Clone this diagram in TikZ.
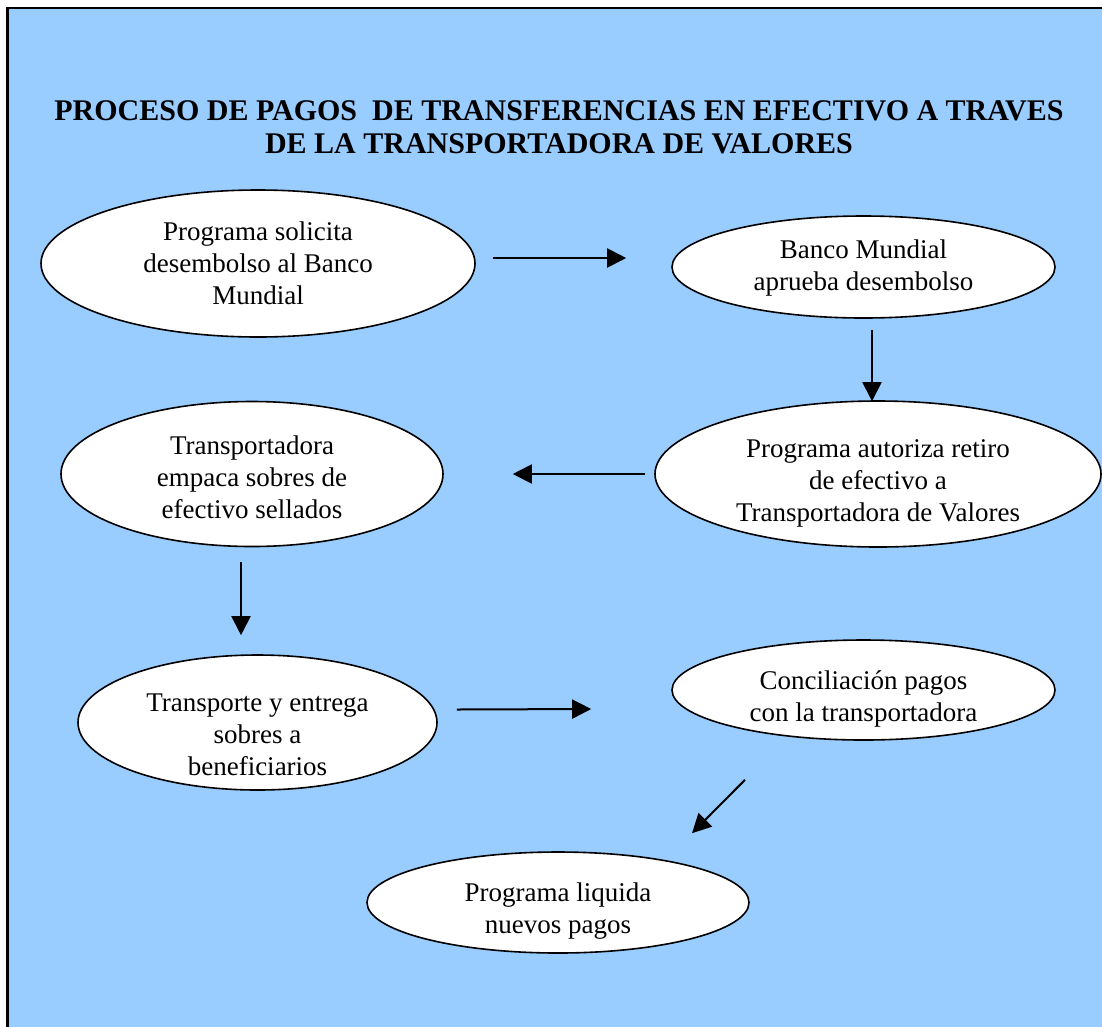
\documentclass[tikz,border=0pt]{standalone}
\usepackage{fontspec}
\setmainfont{Liberation Serif}
\usetikzlibrary{arrows.meta, shapes.geometric}

\definecolor{skyfill}{HTML}{99CCFF}
\tikzset{
  oval/.style={ellipse, draw, line width=1.6pt, fill=white, inner sep=0pt},
  txt/.style={align=center, font=\fontsize{27}{32}\selectfont},
  arr/.style={-{Triangle[length=19pt,width=19pt]}, line width=2pt},
}

\begin{document}
\begin{tikzpicture}[x=1pt, y=-1pt]

  \useasboundingbox (0,0) rectangle (1102,1026);
  \clip (0,0) rectangle (1102,1026);
  \fill[white] (0,0) rectangle (1102,1026);
  \draw[line width=2.5pt, fill=skyfill] (7.5,8) rectangle (1115,1040);

  % title
  \node[align=center, font=\fontsize{30}{33}\selectfont\bfseries] (title) at (559,127)
    {PROCESO DE PAGOS \ DE TRANSFERENCIAS EN EFECTIVO A TRAVES\\DE LA TRANSPORTADORA DE VALORES};

  % steps
  \node[oval, minimum width=434pt, minimum height=147pt,
    label={[txt]center:{Programa solicita\\desembolso al Banco\\Mundial}}] (solicita) at (258,263.5) {};
  \node[oval, minimum width=383pt, minimum height=102pt,
    label={[txt, yshift=-1pt]center:{Banco Mundial\\aprueba desembolso}}] (aprueba) at (863.5,267) {};
  \node[oval, minimum width=446pt, minimum height=146pt,
    label={[txt, yshift=-9pt]center:{Programa autoriza retiro\\de efectivo a\\Transportadora de Valores}}] (autoriza) at (878,474) {};
  \node[oval, minimum width=382pt, minimum height=145pt,
    label={[txt, yshift=-3pt]center:{Transportadora\\empaca sobres de\\efectivo sellados}}] (empaca) at (252,474) {};
  \node[oval, minimum width=359pt, minimum height=135pt,
    label={[txt, yshift=-12pt]center:{Transporte y entrega\\sobres a\\beneficiarios}}] (entrega) at (257.5,722.5) {};
  \node[oval, minimum width=383pt, minimum height=100pt,
    label={[txt, yshift=-9pt]center:{Conciliación pagos\\con la transportadora}}] (concilia) at (863.5,690) {};
  \node[oval, minimum width=382pt, minimum height=101pt,
    label={[txt, yshift=-9pt]center:{Programa liquida\\nuevos pagos}}] (liquida) at (558,902.5) {};

  % arrows
  \draw[arr] ([shift={(17,-5.5)}]solicita.east) -- ([shift={(-45,-9)}]aprueba.west);
  \draw[arr] ([shift={(8.5,11.5)}]aprueba.south) -- ([shift={(-6,1)}]autoriza.north);
  \draw[arr] ([shift={(-9,0)}]autoriza.west) -- ([shift={(69,0)}]empaca.east);
  \draw[arr] ([shift={(-11,15)}]empaca.south) -- ([shift={(-16.5,-19)}]entrega.north);
  \draw[arr] ([shift={(19,-13)}]entrega.east) -- ([shift={(-80,19)}]concilia.west);
  \draw[arr] ([shift={(-118.5,39)}]concilia.south) -- ([shift={(134,-18)}]liquida.north);
\end{tikzpicture}
\end{document}
